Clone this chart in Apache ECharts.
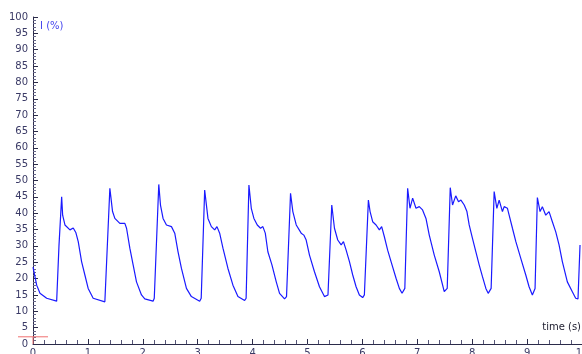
<!DOCTYPE html>
<html>
<head>
<meta charset="utf-8">
<script src="https://cdn.jsdelivr.net/npm/echarts@6/dist/echarts.min.js"></script>
<style>
  html, body { margin: 0; padding: 0; background: #fff; }
  #chart { width: 582px; height: 354px; }
</style>
</head>
<body>
<div id="chart"></div>
<script>
// time (s) and intensity (%)
const timeS = [
  0.00, 0.067, 0.127, 0.249, 0.431,
  0.445, 0.473, 0.522, 0.54, 0.582, 0.673, 0.733, 0.782, 0.824, 0.885, 0.945, 1.005, 1.096, 1.309,
  1.327, 1.40, 1.449, 1.491, 1.582, 1.673, 1.704, 1.764, 1.824, 1.885, 1.976, 2.036, 2.187,
  2.209, 2.291, 2.322, 2.369, 2.431, 2.522, 2.582, 2.642, 2.704, 2.795, 2.885, 3.036,
  3.064, 3.127, 3.187, 3.249, 3.309, 3.351, 3.40, 3.46, 3.551, 3.642, 3.733, 3.855,
  3.882, 3.933, 3.976, 4.024, 4.085, 4.145, 4.187, 4.231, 4.278, 4.352, 4.431, 4.491, 4.582,
  4.618, 4.691, 4.733, 4.795, 4.885, 4.933, 4.976, 5.036, 5.127, 5.218, 5.309, 5.345,
  5.373, 5.442, 5.491, 5.551, 5.613, 5.655, 5.704, 5.764, 5.824, 5.885, 5.945, 6.005,
  6.036, 6.109, 6.14, 6.187, 6.249, 6.309, 6.351, 6.40, 6.46, 6.522, 6.613, 6.673, 6.722, 6.745,
  6.773, 6.824, 6.867, 6.915, 6.976, 7.036, 7.096, 7.158, 7.218, 7.309, 7.40, 7.491, 7.522,
  7.545, 7.60, 7.642, 7.70, 7.751, 7.795, 7.855, 7.904, 7.945, 8.005, 8.067, 8.127, 8.187, 8.249, 8.291, 8.318,
  8.345, 8.40, 8.449, 8.491, 8.551, 8.582, 8.642, 8.673, 8.733, 8.795, 8.885, 8.976, 9.036, 9.096, 9.118,
  9.145, 9.187, 9.236, 9.278, 9.34, 9.40, 9.46, 9.522, 9.582, 9.642, 9.733, 9.824, 9.885, 9.927, 9.964
];
const intensity = [
  23.5, 18, 15.5, 14, 13.1,
  13.3, 30, 45, 39.4, 36.4, 34.9, 35.5, 34, 31.3, 25.2, 21.1, 17, 14, 12.9,
  13.5, 47.6, 40.5, 38.4, 36.9, 36.9, 35.4, 29.3, 24.2, 19, 15, 13.8, 13.1,
  14, 48.8, 42.5, 38.4, 36.4, 35.9, 33.9, 28.2, 23.1, 17, 14.5, 13.1,
  14, 47.1, 38.4, 35.9, 34.9, 35.9, 33.9, 29.3, 23.1, 18, 14.5, 13.3,
  14, 48.6, 41.5, 38.4, 36.4, 35.4, 35.9, 33.9, 28.2, 24.2, 19, 15.5, 13.8,
  14.5, 46.1, 40.5, 36.4, 33.9, 33.3, 31.8, 27.2, 22.1, 17.5, 14.5, 14.0,
  15, 42.5, 35.4, 31.8, 30.3, 31.3, 28.7, 25.2, 21.1, 17.5, 15, 14.2,
  15, 44, 40.5, 37.4, 36.4, 34.9, 35.9, 32.8, 28.7, 25.2, 20.1, 17, 15.5, 15.2,
  17, 47.6, 41.5, 44.6, 41.5, 42, 41, 38.4, 33.3, 27.2, 22.1, 16, 15.5,
  17, 47.8, 42.5, 45.3, 43.5, 44, 42.5, 40.5, 36.4, 32.3, 28.2, 24.2, 20.6, 17, 15.5, 15.2,
  17, 46.6, 41.5, 44, 40.5, 42, 41.5, 39.4, 35.4, 31.3, 26.2, 21.1, 17.5, 15, 14.8,
  17, 44.8, 40.5, 42, 39.4, 40.5, 37.4, 34.3, 30.3, 25.2, 19, 16, 14, 13.8, 30.3
];
const baselineLevel = 2.2;

const axisColor = '#2b2b4a';
const labelFont = { fontFamily: 'DejaVu Sans', fontSize: 10, color: '#3a3a66' };

const chart = echarts.init(document.getElementById('chart'));

const traceData = timeS.map((t, i) => [t, intensity[i]]);

const option = {
  animation: false,
  grid: { left: 33, right: 0, top: 17, bottom: 10, containLabel: false, outerBoundsMode: 'none' },
  xAxis: {
    type: 'value',
    min: 0,
    max: 10,
    interval: 1,
    name: 'time (s)',
    nameLocation: 'end',
    nameGap: -1,
    nameTextStyle: {
      fontFamily: 'DejaVu Sans', fontSize: 10, color: '#222233',
      align: 'right', verticalAlign: 'bottom', padding: [0, 0, 12, 0]
    },
    axisLine: { show: true, lineStyle: { color: axisColor, width: 1 } },
    axisTick: { show: true, inside: true, length: 5, lineStyle: { color: axisColor } },
    minorTick: { show: true, splitNumber: 5, length: 4, lineStyle: { color: '#555577' } },
    axisLabel: Object.assign({ margin: 4, hideOverlap: false }, labelFont),
    splitLine: { show: false }
  },
  yAxis: {
    type: 'value',
    min: 0,
    max: 100,
    interval: 5,
    name: 'I (%)',
    nameLocation: 'end',
    nameGap: -9,
    nameTextStyle: {
      fontFamily: 'DejaVu Sans', fontSize: 10, color: '#4444ee',
      align: 'left', verticalAlign: 'middle', padding: [0, 0, 0, 7]
    },
    axisLine: { show: true, lineStyle: { color: axisColor, width: 1 } },
    axisTick: { show: true, inside: true, length: 5, lineStyle: { color: axisColor } },
    minorTick: { show: true, splitNumber: 5, length: 3, lineStyle: { color: '#666688' } },
    axisLabel: Object.assign({ margin: 5 }, labelFont),
    splitLine: { show: false }
  },
  series: [
    {
      name: 'I',
      type: 'line',
      data: traceData,
      showSymbol: false,
      symbol: 'none',
      lineStyle: { color: '#1a1aff', width: 1.2 },
      z: 3
    }
  ]
};

chart.setOption(option);

// small red baseline marker around the origin
const p = chart.convertToPixel({ gridIndex: 0 }, [0, baselineLevel]);
const p0 = chart.convertToPixel({ gridIndex: 0 }, [0, 0]);
chart.setOption({
  graphic: [
    {
      type: 'line',
      shape: { x1: p[0] - 15, y1: p[1], x2: p[0] + 15, y2: p[1] },
      style: { stroke: '#f07070', lineWidth: 1 },
      z: 10
    },
    {
      type: 'line',
      shape: { x1: p0[0], y1: p[1], x2: p0[0], y2: p0[1] },
      style: { stroke: '#f07070', lineWidth: 1 },
      z: 10
    }
  ]
});
</script>
</body>
</html>
